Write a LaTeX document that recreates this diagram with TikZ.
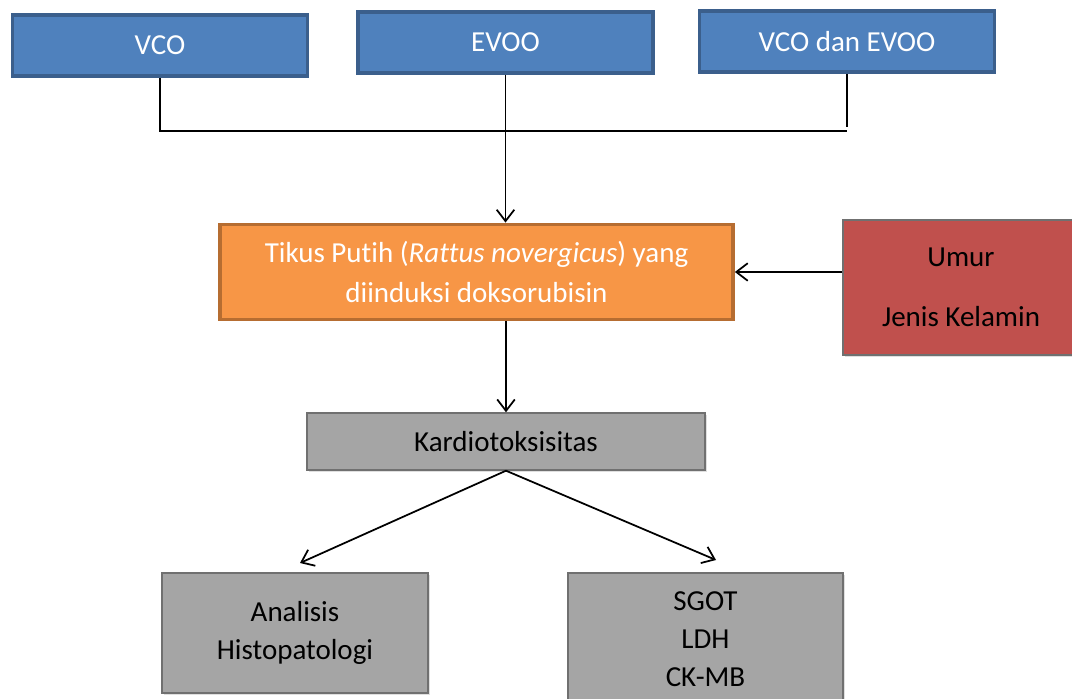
\documentclass[tikz,border=0pt]{standalone}
\usepackage{fontspec}
\setmainfont[Ligatures=NoCommon]{Carlito}
\usepackage{xcolor}
\definecolor{colorBlue}{HTML}{4F81BD}
\definecolor{colorBlueLine}{HTML}{3B5F8C}
\definecolor{colorOrange}{HTML}{F79646}
\definecolor{colorOrangeLine}{HTML}{B66D31}
\definecolor{colorRed}{HTML}{C0504D}
\definecolor{colorGrey}{HTML}{A5A5A5}
\definecolor{colorGreyLine}{HTML}{707070}
\usetikzlibrary{arrows.meta, positioning, shadows}
\tikzset{
  box/.style={rectangle, align=center, inner sep=0pt, font=\fontsize{16.5}{22}\selectfont},
  bluebox/.style={box, fill=colorBlue, draw=colorBlueLine, line width=2.2pt, text=white, minimum width=5.9cm, minimum height=1.22cm},
  orangebox/.style={box, fill=colorOrange, draw=colorOrangeLine, line width=2.2pt, text=white, minimum width=10.26cm, minimum height=1.9cm, font=\fontsize{16.5}{23.2}\selectfont},
  greybox/.style={box, fill=colorGrey, draw=colorGreyLine, line width=0.8pt, drop shadow={shadow xshift=1.2pt, shadow yshift=-1.2pt, opacity=0.25}},
  redbox/.style={box, fill=colorRed, draw=colorGreyLine, line width=0.8pt, drop shadow={shadow xshift=1.2pt, shadow yshift=-1.2pt, opacity=0.25}},
  link/.style={line width=1pt, black}
}

\begin{document}
\begin{tikzpicture}[x=0.02cm, y=-0.02cm, >={Straight Barb[length=6.5pt, width=10pt]}]
\useasboundingbox (0,0) rectangle (1072,699);
\clip (0,0) rectangle (1072,699);
% perlakuan
\node[bluebox] (vco) at (160,45.5) {VCO};
\node[bluebox] (evoo) at (505.5,42.5) {EVOO};
\node[bluebox] (vcoevoo) at (847,41.5) {VCO dan EVOO};
% hewan coba
\node[orangebox] (tikus) at (476.5,272) {Tikus Putih (\textit{Rattus novergicus}) yang\\diinduksi doksorubisin};
\node[redbox, minimum width=4.72cm, minimum height=2.7cm] (faktor) at (961,287.5) {Umur\\[12pt]Jenis Kelamin};
% luaran
\node[greybox, minimum width=7.96cm, minimum height=1.14cm] (kardio) at (506,441.5) {Kardiotoksisitas};
\node[greybox, minimum width=5.32cm, minimum height=2.4cm, font=\fontsize{16.5}{22.1}\selectfont] (histo) at (295,633) {Analisis\\Histopatologi};
\node[greybox, minimum width=5.5cm, minimum height=2.64cm, font=\fontsize{16.5}{21.8}\selectfont] (enzim) at (705.5,639) {SGOT\\LDH\\CK-MB};

\coordinate (bar) at (0,131);
\coordinate (histotip) at (300,563);
\coordinate (enzimtip) at (716,560);
\draw[link] (vco.south) |- (vcoevoo.south |- bar);
\draw[link] (vcoevoo.south) -- ([yshift=2pt]vcoevoo.south |- bar);
\draw[link, ->] (evoo.south) -- (evoo.south |- tikus.north);
\draw[link, ->] (faktor.west |- tikus.east) -- (tikus.east);
\draw[link, ->] (kardio.north |- tikus.south) -- (kardio.north);
\draw[link, ->] (kardio.south) -- (histotip);
\draw[link, ->] (kardio.south) -- (enzimtip);
\end{tikzpicture}
\end{document}
